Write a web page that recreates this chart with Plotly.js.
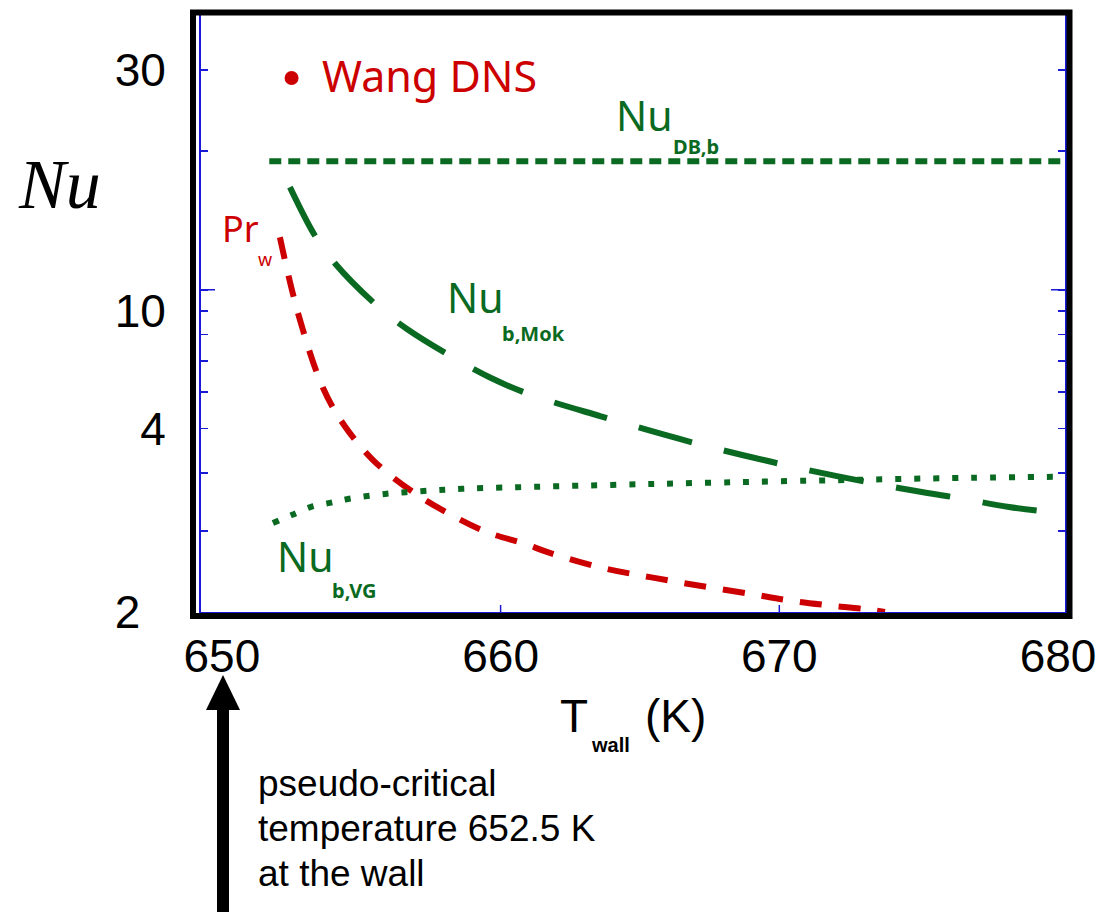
<!DOCTYPE html>
<html>
<head>
<meta charset="utf-8">
<script src="https://cdn.plot.ly/plotly-3.0.1.min.js"></script>
<style>html,body{margin:0;padding:0;background:#fff;}#chart{width:1103px;height:916px;}</style>
</head>
<body>
<div id="chart"></div>
<script>
// ---- data ----
const T_DB   = [651.7, 680.3];
const NU_DB  = [19.0, 19.0];

const T_MOK  = [652.44, 653.34, 654.06, 655.57, 656.64, 658.26, 659.62, 660.98, 663.57, 667.15, 670.74, 674.33, 676.48, 678.24, 680.25];
const NU_MOK = [16.7, 13.1, 11.4, 9.23, 8.22, 7.15, 6.45, 5.95, 5.32, 4.62, 4.10, 3.71, 3.53, 3.38, 3.27];

const T_PR   = [652.08, 652.73, 653.63, 654.38, 655.46, 656.86, 658.18, 659.51, 660.88, 661.66, 663.57, 665.36, 667.15, 668.95, 670.31, 671.68, 673.04, 673.79];
const PR_W   = [13.0, 8.9, 6.12, 5.09, 4.25, 3.64, 3.26, 2.98, 2.81, 2.70, 2.50, 2.38, 2.28, 2.19, 2.12, 2.07, 2.03, 2.00];

const T_VG   = [651.83, 652.52, 653.20, 653.88, 654.56, 655.92, 657.25, 658.61, 660.62, 665.36, 670.74, 676.91, 680.25];
const NU_VG  = [3.12, 3.25, 3.38, 3.45, 3.52, 3.61, 3.66, 3.70, 3.73, 3.79, 3.85, 3.91, 3.93];

const T_WANG  = [652.5];
const NU_WANG = [28.8];

const X_TICK_VALS = [650, 660, 670, 680];
const X_TICK_TEXT = ['650', '660', '670', '680'];
const X_MARK_TICKS = [660, 670];
const Y_TICK_VALS = [2, 3, 4, 5, 6, 7, 8, 9, 10, 20, 30];
const Y_TICK_TEXT = ['2\u00a0\u00a0', '', '', '4', '', '', '', '10', '', '', '30'];
const NOTE_LINES = ['pseudo-critical', 'temperature 652.5 K', 'at the wall'];

// ---- styling ----
const GREEN = '#0b6a22';
const RED = '#cc0000';
const BLUE = '#1a1ad6';
const W = 1103, H = 916;
const M = {l: 201, r: 38, t: 15, b: 304};
const PW = W - M.l - M.r, PH = H - M.t - M.b;
const YR = [Math.log10(2), 1.596];
const XR = [649.25, 680.25];
const fx = px => (px - M.l) / PW;
const fy = py => (M.t + PH - py) / PH;
const yfrac = v => (Math.log10(v) - YR[0]) / (YR[1] - YR[0]);

function ann(text, px, py, size, color, family, opt) {
  return Object.assign({
    text: text, xref: 'paper', yref: 'paper', x: fx(px), y: fy(py),
    xanchor: 'left', yanchor: 'middle', showarrow: false,
    font: {size: size, color: color, family: family}
  }, opt || {});
}

const traces = [
  {x: T_DB, y: NU_DB, mode: 'lines', line: {color: GREEN, width: 6, dash: '12px,7px'}, hoverinfo: 'skip'},
  {x: T_MOK, y: NU_MOK, mode: 'lines', line: {color: GREEN, width: 6, dash: '55px,33px', shape: 'spline'}, hoverinfo: 'skip'},
  {x: T_PR, y: PR_W, mode: 'lines', line: {color: RED, width: 6, dash: '22px,17px', shape: 'spline'}, hoverinfo: 'skip'},
  {x: T_VG, y: NU_VG, mode: 'lines', line: {color: GREEN, width: 6, dash: '6px,13px', shape: 'spline'}, hoverinfo: 'skip'},
  {x: T_WANG, y: NU_WANG, mode: 'markers', marker: {color: RED, size: 14}, hoverinfo: 'skip'}
];

const shapes = [];
X_MARK_TICKS.forEach(v => shapes.push({type: 'line', xref: 'x', yref: 'paper', x0: v, x1: v, y0: 0, y1: 7 / PH, line: {color: BLUE, width: 1.5}}));
shapes.push({type: 'line', xref: 'paper', yref: 'paper', x0: 0, x1: 14 / PW, y0: yfrac(10), y1: yfrac(10), line: {color: BLUE, width: 1.5}});
shapes.push({type: 'line', xref: 'paper', yref: 'paper', x0: 1 - 14 / PW, x1: 1, y0: yfrac(10), y1: yfrac(10), line: {color: BLUE, width: 1.5}});
// black frame
shapes.push({type: 'rect', xref: 'paper', yref: 'paper', x0: fx(193), x1: fx(1069.5), y0: fy(616), y1: fy(12.5), line: {color: '#000', width: 6}, fillcolor: 'rgba(0,0,0,0)'});
// arrow
shapes.push({type: 'rect', xref: 'paper', yref: 'paper', x0: fx(217), x1: fx(229), y0: fy(912), y1: fy(706), line: {width: 0}, fillcolor: '#000'});
shapes.push({type: 'path', xref: 'paper', yref: 'paper',
  path: 'M ' + fx(206) + ' ' + fy(710) + ' L ' + fx(240) + ' ' + fy(710) + ' L ' + fx(223) + ' ' + fy(675) + ' Z',
  line: {width: 0}, fillcolor: '#000'});

const SANS = 'Noto Sans, DejaVu Sans, sans-serif';
const ARIAL = 'Liberation Sans, Arial, sans-serif';
const annotations = [
  ann('<i>Nu</i>', 59, 185, 70, '#000', 'Liberation Serif, Times New Roman, serif', {xanchor: 'center'}),
  ann('Wang DNS', 320, 75, 43, RED, SANS),
  ann('Nu', 614, 115, 41, GREEN, SANS),
  ann('<b>DB,b</b>', 671, 146, 20, GREEN, SANS),
  ann('Nu', 445, 297, 41, GREEN, SANS),
  ann('<b>b,Mok</b>', 500, 333, 20, GREEN, SANS),
  ann('Nu', 275, 556, 41, GREEN, SANS),
  ann('<b>b,VG</b>', 330, 590, 20, GREEN, SANS),
  ann('Pr', 220, 228, 36, RED, SANS),
  ann('w', 256, 259, 18, RED, SANS),
  ann('T', 558, 716, 46, '#000', ARIAL),
  ann('<b>wall</b>', 589, 745, 20, '#000', ARIAL),
  ann('(K)', 643, 716, 46, '#000', ARIAL)
];
NOTE_LINES.forEach((t, i) => annotations.push(ann(t, 256, 783 + i * 45, 37, '#000', ARIAL)));

const layout = {
  width: W, height: H,
  margin: M,
  paper_bgcolor: '#fff', plot_bgcolor: '#fff',
  showlegend: false,
  xaxis: {
    range: XR, tickmode: 'array', tickvals: X_TICK_VALS, ticktext: X_TICK_TEXT,
    ticks: '', showline: true, linecolor: BLUE, linewidth: 2, mirror: true,
    showgrid: false, zeroline: false, ticklabelstandoff: 3,
    tickfont: {family: ARIAL, size: 46, color: '#000'}
  },
  yaxis: {
    type: 'log', range: YR, tickmode: 'array', tickvals: Y_TICK_VALS, ticktext: Y_TICK_TEXT,
    ticks: 'inside', ticklen: 7, tickwidth: 1.5, tickcolor: BLUE,
    showline: true, linecolor: BLUE, linewidth: 2, mirror: 'ticks',
    showgrid: false, zeroline: false, ticklabelstandoff: 24,
    tickfont: {family: ARIAL, size: 46, color: '#000'}
  },
  shapes: shapes,
  annotations: annotations
};

Plotly.newPlot('chart', traces, layout, {staticPlot: true, displayModeBar: false});
</script>
</body>
</html>
